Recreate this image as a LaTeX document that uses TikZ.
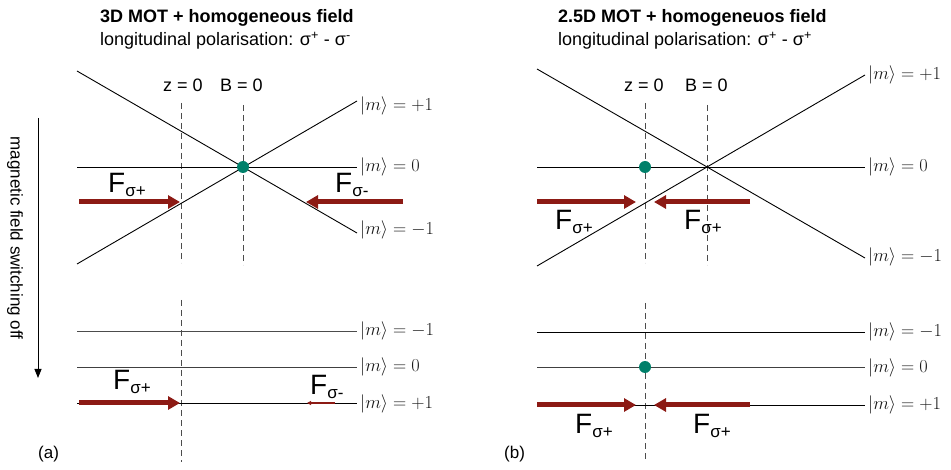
\documentclass[tikz,border=0pt]{standalone}
\usepackage{fontspec}
\setmainfont{Liberation Sans}
\usetikzlibrary{arrows.meta}
\definecolor{arrred}{RGB}{140,26,20}
\definecolor{dotteal}{RGB}{0,128,106}
\tikzset{
  level/.style={black, line width=0.9pt},
  zline/.style={black!70, line width=0.9pt, dash pattern=on 6pt off 4pt},
  force/.style={arrred, line width=5pt, -{Triangle[length=12pt,width=13pt]}},
  weakforce/.style={arrred, line width=1.5pt, -{Triangle[length=4pt,width=4pt]}},
  atom/.style={circle, fill=dotteal, inner sep=0pt, minimum size=12pt},
  mlabel/.style={anchor=west, inner sep=0pt, text=black!90, font=\fontsize{17.28}{20}\selectfont},
  txt/.style={anchor=base west, inner sep=0pt, font=\fontsize{18}{21}\selectfont},
  ftxt/.style={anchor=base west, inner sep=0pt}
}
\newcommand{\Fsub}[1]{{\fontsize{28}{30}\selectfont F}{\fontsize{17}{18}\selectfont\raisebox{-4pt}{#1}}}
\newcommand{\mket}[1]{\scalebox{1.06}{$|m\rangle = #1$}}
\begin{document}
\begin{tikzpicture}[x=1pt, y=-1pt]
\useasboundingbox (0,0) rectangle (951,470);

% ---------------- panel (a) ----------------
\node[txt, font=\fontsize{18}{21}\selectfont\bfseries] (ta) at (100,23) {3D MOT + homogeneous field};
\node[txt] (sa) at (100,46) {longitudinal polarisation: σ\textsuperscript{+} - σ\textsuperscript{-}};

\node[txt] (za) at (163,92) {z = 0};
\node[txt] (ba) at (220,92) {B = 0};

\draw[zline] (181,103) coordinate (za1) -- (181,263) coordinate (za2);
\draw[zline] (243,105) coordinate (ba1) -- (243,265) coordinate (ba2);

\coordinate (a1s) at (77,71);  \coordinate (a1e) at (357,233);
\coordinate (a2s) at (77,264); \coordinate (a2e) at (357,101);
\coordinate (a0s) at (77,167); \coordinate (a0e) at (357,167);
\draw[level] (a1s) -- (a1e);
\draw[level] (a2s) -- (a2e);
\draw[level] (a0s) -- (a0e);
\node[atom] (dota) at (243,167) {};

\node[mlabel] (ma1) at (360,106) {\mket{+1}};
\node[mlabel] (ma0) at (360,167) {\mket{0}};
\node[mlabel] (mam) at (360,230) {\mket{-1}};

\coordinate (fa1s) at (79,202);  \coordinate (fa1e) at (180,202);
\coordinate (fa2s) at (403,202); \coordinate (fa2e) at (306,202);
\draw[force] (fa1s) -- (fa1e);
\draw[force] (fa2s) -- (fa2e);
\node[ftxt] (lfa1) at (108,193) {\Fsub{σ+}};
\node[ftxt] (lfa2) at (335,193) {\Fsub{σ-}};

% lower (a)
\draw[zline] (181,300) coordinate (zal1) -- (181,462) coordinate (zal2);
\coordinate (la1s) at (77,331); \coordinate (la1e) at (357,331);
\coordinate (la0s) at (77,367); \coordinate (la0e) at (357,367);
\coordinate (la2s) at (77,403); \coordinate (la2e) at (357,403);
\draw[level, black!70] (la1s) -- (la1e);
\draw[level, black!75] (la0s) -- (la0e);
\draw[level] (la2s) -- (la2e);
\node[mlabel] (lma1) at (360,331) {\mket{-1}};
\node[mlabel] (lma0) at (360,367) {\mket{0}};
\node[mlabel] (lmam) at (360,404) {\mket{+1}};

\coordinate (lfa1s) at (79,403);  \coordinate (lfa1e) at (180,403);
\coordinate (lfa2s) at (335,403); \coordinate (lfa2e) at (307,403);
\draw[force] (lfa1s) -- (lfa1e);
\draw[weakforce] (lfa2s) -- (lfa2e);
\node[ftxt] (llfa1) at (113,390) {\Fsub{σ+}};
\node[ftxt] (llfa2) at (310,395) {\Fsub{σ-}};

\node[txt, font=\fontsize{17}{20}\selectfont] (pa) at (38,458) {(a)};

% switching arrow
\coordinate (sw1) at (38,118); \coordinate (sw2) at (38,378);
\draw[black, line width=0.9pt, -{Triangle[length=9pt,width=7pt]}] (sw1) -- (sw2);
\node[rotate=-90, inner sep=0pt, font=\fontsize{17}{20}\selectfont] (swt) at (15,238) {magnetic field switching off};

% ---------------- panel (b) ----------------
\node[txt, font=\fontsize{18}{21}\selectfont\bfseries] (tb) at (558,23) {2.5D MOT + homogeneuos field};
\node[txt] (sb) at (558,46) {longitudinal polarisation: σ\textsuperscript{+} - σ\textsuperscript{+}};

\node[txt] (zb) at (624,92) {z = 0};
\node[txt] (bb) at (685,92) {B = 0};

\draw[zline] (645,103) coordinate (zb1) -- (645,263) coordinate (zb2);
\draw[zline] (707,105) coordinate (bb1) -- (707,265) coordinate (bb2);

\coordinate (b1s) at (537,69);  \coordinate (b1e) at (865,258);
\coordinate (b2s) at (537,266); \coordinate (b2e) at (865,75);
\coordinate (b0s) at (537,167); \coordinate (b0e) at (865,167);
\draw[level] (b1s) -- (b1e);
\draw[level] (b2s) -- (b2e);
\draw[level] (b0s) -- (b0e);
\node[atom] (dotb) at (645,167) {};

\node[mlabel] (mb1) at (868,75) {\mket{+1}};
\node[mlabel] (mb0) at (868,167) {\mket{0}};
\node[mlabel] (mbm) at (868,257) {\mket{-1}};

\coordinate (fb1s) at (537,202); \coordinate (fb1e) at (636,202);
\coordinate (fb2s) at (750,202); \coordinate (fb2e) at (654,202);
\draw[force] (fb1s) -- (fb1e);
\draw[force] (fb2s) -- (fb2e);
\node[ftxt] (lfb1) at (555,230) {\Fsub{σ+}};
\node[ftxt] (lfb2) at (684,230) {\Fsub{σ+}};

% lower (b)
\draw[zline] (645,303) coordinate (zbl1) -- (645,462) coordinate (zbl2);
\coordinate (lb1s) at (537,332); \coordinate (lb1e) at (865,332);
\coordinate (lb0s) at (537,367); \coordinate (lb0e) at (865,367);
\coordinate (lb2s) at (537,405); \coordinate (lb2e) at (865,405);
\draw[level] (lb1s) -- (lb1e);
\draw[level, black!75] (lb0s) -- (lb0e);
\draw[level] (lb2s) -- (lb2e);
\node[atom] (dotbl) at (645,367) {};
\node[mlabel] (lmb1) at (868,332) {\mket{-1}};
\node[mlabel] (lmb0) at (868,368) {\mket{0}};
\node[mlabel] (lmbm) at (868,405) {\mket{+1}};

\coordinate (lfb1s) at (537,405); \coordinate (lfb1e) at (636,405);
\coordinate (lfb2s) at (750,405); \coordinate (lfb2e) at (654,405);
\draw[force] (lfb1s) -- (lfb1e);
\draw[force] (lfb2s) -- (lfb2e);
\node[ftxt] (llfb1) at (575,433) {\Fsub{σ+}};
\node[ftxt] (llfb2) at (693,433) {\Fsub{σ+}};

\node[txt, font=\fontsize{17}{20}\selectfont] (pb) at (504,458) {(b)};
\end{tikzpicture}
\end{document}
